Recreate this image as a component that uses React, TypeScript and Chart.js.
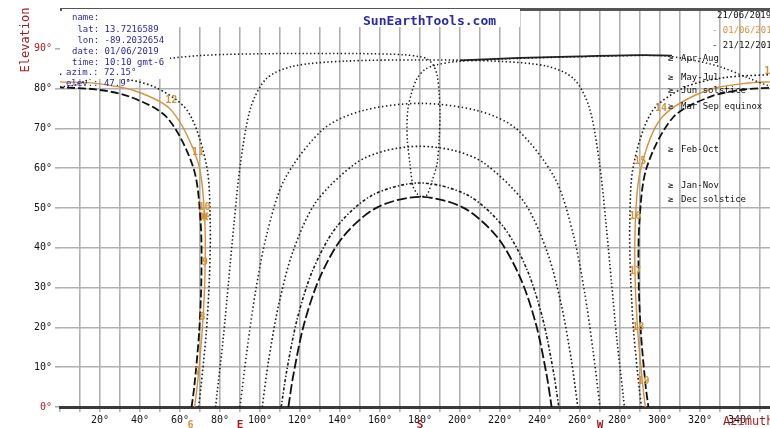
import React, { useEffect, useRef } from 'react';
import { Chart, registerables } from 'chart.js';

Chart.register(...registerables);

// ---- sun paths (azimuth deg, elevation deg); null = wrap through north ----
const junAz = [65.8, 67.2, 69.6, 70.7, 70.3, 66.7, 53.4, 34.7, 17.6, 0, null, 360, 342.4, 325.3, 306.6, 293.3, 289.7, 289.3, 290.4, 292.8, 294.2];
const junEl = [0, 5.4, 19.0, 32.7, 46.5, 60.1, 72.8, 78.0, 79.8, 80.3, null, 80.3, 79.8, 78.0, 72.8, 60.1, 46.5, 32.7, 19.0, 5.4, 0];

const mayJulAz = [69.3, 70.4, 73.1, 74.7, 75.1, 73.3, 63.9, 47.3, 27.2, 0, null, 360, 332.8, 312.7, 296.1, 286.7, 284.9, 285.3, 286.9, 289.6, 290.7];
const mayJulEl = [0, 4.7, 18.5, 32.5, 46.6, 60.6, 74.3, 80.4, 82.8, 83.6, null, 83.6, 82.8, 80.4, 74.3, 60.6, 46.6, 32.5, 18.5, 4.7, 0];

const aprAugAz = [77.8, 78.4, 81.6, 84.3, 87.0, 90.1, 95.4, 103.2, 116.3, 142.4, 180, 217.6, 243.7, 256.8, 264.6, 269.9, 273.0, 275.7, 278.4, 281.6, 282.2];
const aprAugEl = [0, 2.8, 17.2, 31.6, 46.1, 60.7, 75.3, 82.5, 85.6, 86.9, 87.2, 86.9, 85.6, 82.5, 75.3, 60.7, 46.1, 31.6, 17.2, 2.8, 0];

const equinoxAz = [90, 93.6, 97.8, 103.4, 112.4, 131.6, 150.8, 180, 209.2, 228.4, 247.6, 256.6, 262.2, 266.4, 270];
const equinoxEl = [0, 14.6, 29.1, 43.4, 57.3, 69.8, 74.4, 76.3, 74.4, 69.8, 57.3, 43.4, 29.1, 14.6, 0];

const febOctAz = [101.1, 104.3, 109.3, 116.5, 128.0, 148.0, 162.7, 180, 197.3, 212.0, 232.0, 243.5, 250.7, 255.7, 258.9];
const febOctEl = [0, 11.7, 25.6, 39.1, 51.5, 61.3, 64.4, 65.5, 64.4, 61.3, 51.5, 39.1, 25.6, 11.7, 0];

const janNovAz = [110.6, 113.3, 118.6, 126.4, 138.2, 156.1, 180, 203.9, 221.8, 233.6, 241.4, 246.7, 249.4];
const janNovEl = [0, 8.9, 22.1, 34.4, 45.2, 53.2, 56.3, 53.2, 45.2, 34.4, 22.1, 8.9, 0];

const decAz = [114.2, 116.6, 121.9, 129.8, 141.4, 158.4, 180, 201.6, 218.6, 230.2, 238.1, 243.4, 245.8];
const decEl = [0, 7.8, 20.6, 32.4, 42.7, 50.1, 52.8, 50.1, 42.7, 32.4, 20.6, 7.8, 0];

// current day 01/06/2019
const day01Az = [67.3, 68.8, 71.2, 72.5, 72.3, 69.0, 55.6, 37.6, 17.6, 0, null, 360, 355.1, 342.4, 322.4, 300.5, 290.1, 287.6, 287.6, 289.1, 291.7, 292.7];
const day01El = [0, 6.2, 19.9, 33.8, 47.7, 61.5, 74.6, 79.4, 81.3, 81.7, null, 81.7, 81.7, 81.3, 79.4, 72.5, 59.2, 45.4, 31.5, 17.6, 4.0, 0];

// analemma (13:00)
const analemmaAz = [180.5, 178.5, 176.5, 175, 173.7, 173.5, 174, 176, 178.5, 182.5, 188.5, 198.5, 230, 270, 300, 315, 330, 345, 355, 360, null, 0, 8, 20, 40, 70, 110, 150, 172, 180, 183.5, 186.5, 188.5, 189.5, 190, 189.5, 188.5, 186, 183.5, 180.5];
const analemmaEl = [52.8, 53.6, 55.5, 61, 66.8, 71, 75, 79.3, 82.5, 84.8, 86, 86.8, 87.6, 88.1, 88.3, 87.3, 85.5, 82.5, 80.6, 80.4, null, 80.4, 81, 83.5, 86.5, 88.3, 88.8, 88.8, 88.5, 88, 87.5, 86, 83.5, 79.3, 73.5, 66.8, 61, 56.8, 53.3, 52.8];
const swingAz = [200, 230, 260, 290, 306];
const swingEl = [87.1, 87.7, 88.1, 88.4, 88.3];

// hour marks of the current day
const hourLabels = [6, 7, 8, 9, 10, 11, 12, 13, 14, 15, 16, 17, 18, 19];
const hourAz = [65.2, 68.8, 71.2, 72.5, 72.3, 69.0, 55.6, 355.1, 300.5, 290.1, 287.6, 287.6, 289.1, 291.7];
const hourEl = [-7.2, 6.2, 19.9, 33.8, 47.7, 61.5, 74.6, 81.7, 72.5, 59.2, 45.4, 31.5, 17.6, 4.0];

const nowAz = [72.15];
const nowEl = [47.9];

const seasonNames = ['Apr-Aug', 'May-Jul', 'Jun solstice', 'Mar Sep equinox', 'Feb-Oct', 'Jan-Nov', 'Dec solstice'];
const seasonPeaks = [88.2, 83.6, 80.3, 76.3, 65.5, 56.3, 52.8];

const infoLines = ['name:', ' lat: 13.7216589', ' lon: -89.2032654', 'date: 01/06/2019', 'time: 10:10 gmt-6', 'azim.: 72.15°', 'elev.: 47.9°'];
const dateLegend = ['21/06/2019', '- 01/06/2019', '- 21/12/2019'];
const compass = [['E', 90], ['S', 180], ['W', 270]];

const MONO = '"DejaVu Sans Mono", monospace';
const ORANGE = '#d3923c';
const RED = '#a81c1c';
const BLUE = '#2a2aa8';
const GRID = '#b0b0b0';

const pts = (az: (number | null)[], el: (number | null)[]) => az.map((a, i) => ({ x: a, y: el[i] }));

const dotted = (label: string, az: any[], el: any[], dash: number[], width = 1.6) => ({
  label,
  data: pts(az, el),
  showLine: true,
  borderColor: '#1a1a1a',
  borderWidth: width,
  borderDash: dash,
  pointRadius: 0,
  tension: 0.3,
  spanGaps: false,
});

const textPlugin = {
  id: 'sunTexts',
  afterDatasetsDraw(chart: any) {
    const { ctx } = chart;
    const xs = chart.scales.x;
    const ys = chart.scales.y;
    ctx.save();
    // white header areas
    ctx.fillStyle = '#ffffff';
    ctx.fillRect(62, 9, 458, 18);
    ctx.fillRect(62, 9, 108, 70);

    ctx.textBaseline = 'middle';
    // info block
    ctx.fillStyle = BLUE;
    ctx.font = `9px ${MONO}`;
    ctx.textAlign = 'left';
    const infoY = [18, 30, 41, 52, 63, 73, 84];
    infoLines.forEach((t, i) => ctx.fillText(t, i < 5 ? 72 : 66, infoY[i]));

    // site title
    ctx.font = `bold 13px ${MONO}`;
    ctx.fillText('SunEarthTools.com', 363, 22);

    // date legend
    ctx.font = `9px ${MONO}`;
    const dColors = ['#111', ORANGE, '#111'];
    dateLegend.forEach((t, i) => {
      ctx.fillStyle = dColors[i];
      ctx.fillText(t, i === 0 ? 717 : 712, 16 + i * 15);
    });

    // season labels at the peak elevation of each path
    ctx.fillStyle = '#111';
    seasonNames.forEach((t, i) => {
      const yy = ys.getPixelForValue(seasonPeaks[i]) + 3;
      ctx.fillText('≥', 668, yy);
      ctx.fillText(t, 681, yy);
    });

    // hour labels
    ctx.fillStyle = ORANGE;
    ctx.font = `bold 10px ${MONO}`;
    ctx.textAlign = 'center';
    hourLabels.forEach((h, i) => {
      ctx.fillText(String(h), xs.getPixelForValue(hourAz[i]), ys.getPixelForValue(hourEl[i]) - 10);
    });

    // axis titles
    ctx.fillStyle = RED;
    ctx.font = `12px ${MONO}`;
    ctx.textAlign = 'left';
    ctx.fillText('Azimuth', 723, 422);
    ctx.font = `bold 11px ${MONO}`;
    ctx.textAlign = 'center';
    compass.forEach(([t, v]) => ctx.fillText(t as string, xs.getPixelForValue(v as number), 425));
    ctx.save();
    ctx.translate(26, 40);
    ctx.rotate(-Math.PI / 2);
    ctx.font = `12px ${MONO}`;
    ctx.fillText('Elevation', 0, 0);
    ctx.restore();
    ctx.restore();
  },
};

export default function App() {
  const ref = useRef<HTMLCanvasElement | null>(null);
  useEffect(() => {
    if (!ref.current) return;
    const chart = new Chart(ref.current, {
      type: 'scatter',
      data: {
        datasets: [
          dotted('analemma', analemmaAz, analemmaEl, [1.4, 2.4], 1.5),
          { label: 'swing', data: pts(swingAz, swingEl), showLine: true, borderColor: '#222', borderWidth: 1.8, pointRadius: 0, tension: 0.3 },
          dotted('Apr-Aug', aprAugAz, aprAugEl, [1.4, 2.4]),
          dotted('May-Jul', mayJulAz, mayJulEl, [1.6, 2.4]),
          dotted('Mar Sep equinox', equinoxAz, equinoxEl, [1.4, 2.6]),
          dotted('Feb-Oct', febOctAz, febOctEl, [1.6, 2.4]),
          dotted('Jan-Nov', janNovAz, janNovEl, [3, 2, 1.4, 2]),
          { label: '21/12/2019', data: pts(decAz, decEl), showLine: true, borderColor: '#111', borderWidth: 1.8, borderDash: [10, 3], pointRadius: 0, tension: 0.3 },
          { label: '21/06/2019', data: pts(junAz, junEl), showLine: true, borderColor: '#111', borderWidth: 1.8, borderDash: [8, 3], pointRadius: 0, tension: 0.3 },
          { label: '01/06/2019', data: pts(day01Az, day01El), showLine: true, borderColor: ORANGE, borderWidth: 1.4, pointRadius: 0, tension: 0.3 },
          { label: 'now', data: pts(nowAz, nowEl), showLine: false, pointStyle: 'star', pointRadius: 5, borderColor: ORANGE, borderWidth: 2, backgroundColor: ORANGE },
        ] as any,
      },
      options: {
        responsive: false,
        animation: false,
        devicePixelRatio: 1,
        events: [],
        layout: { padding: { top: 7, right: 10, left: 0, bottom: 0 } },
        plugins: { legend: { display: false }, tooltip: { enabled: false } },
        scales: {
          x: {
            type: 'linear',
            min: 0,
            max: 360,
            afterFit: (s: any) => { s.height = 21; },
            ticks: {
              stepSize: 10,
              autoSkip: false,
              maxRotation: 0,
              padding: 2,
              font: { family: MONO, size: 10 },
              color: '#111',
              callback: (v: any) => (v % 20 === 0 && v > 0 && v < 360 ? v + '°' : ''),
            },
            grid: {
              color: (c: any) => (c.tick && (c.tick.value === 0 || c.tick.value === 360) ? 'rgba(0,0,0,0)' : GRID),
              lineWidth: 1.6,
              drawTicks: true,
              tickLength: 5,
              tickColor: GRID,
            },
            border: { display: true, color: '#3a3a3a', width: 3 },
          },
          y: {
            type: 'linear',
            min: 0,
            max: 100,
            afterFit: (s: any) => { s.width = 60; },
            ticks: {
              stepSize: 10,
              padding: 3,
              font: { family: MONO, size: 10 },
              color: (c: any) => (c.tick && (c.tick.value === 0 || c.tick.value === 90) ? RED : '#111'),
              callback: (v: any) => (v <= 90 ? v + '°' : ''),
            },
            grid: {
              color: (c: any) => {
                const v = c.tick ? c.tick.value : -1;
                if (v === 0 || v === 90) return 'rgba(0,0,0,0)';
                if (v === 100) return '#555';
                return GRID;
              },
              lineWidth: (c: any) => (c.tick && c.tick.value === 100 ? 3 : 1.6),
              tickColor: (c: any) => (c.tick && c.tick.value === 100 ? 'rgba(0,0,0,0)' : GRID),
              tickLength: 5,
            },
            border: { display: false },
          },
        },
      } as any,
      plugins: [textPlugin],
    });
    return () => chart.destroy();
  }, []);

  return (
    <div style={{ position: 'fixed', left: 0, top: 0, width: 770, height: 428, overflow: 'hidden', background: '#fff' }}>
      <canvas ref={ref} width={790} height={428} style={{ display: 'block', width: 790, height: 428 }} />
    </div>
  );
}
